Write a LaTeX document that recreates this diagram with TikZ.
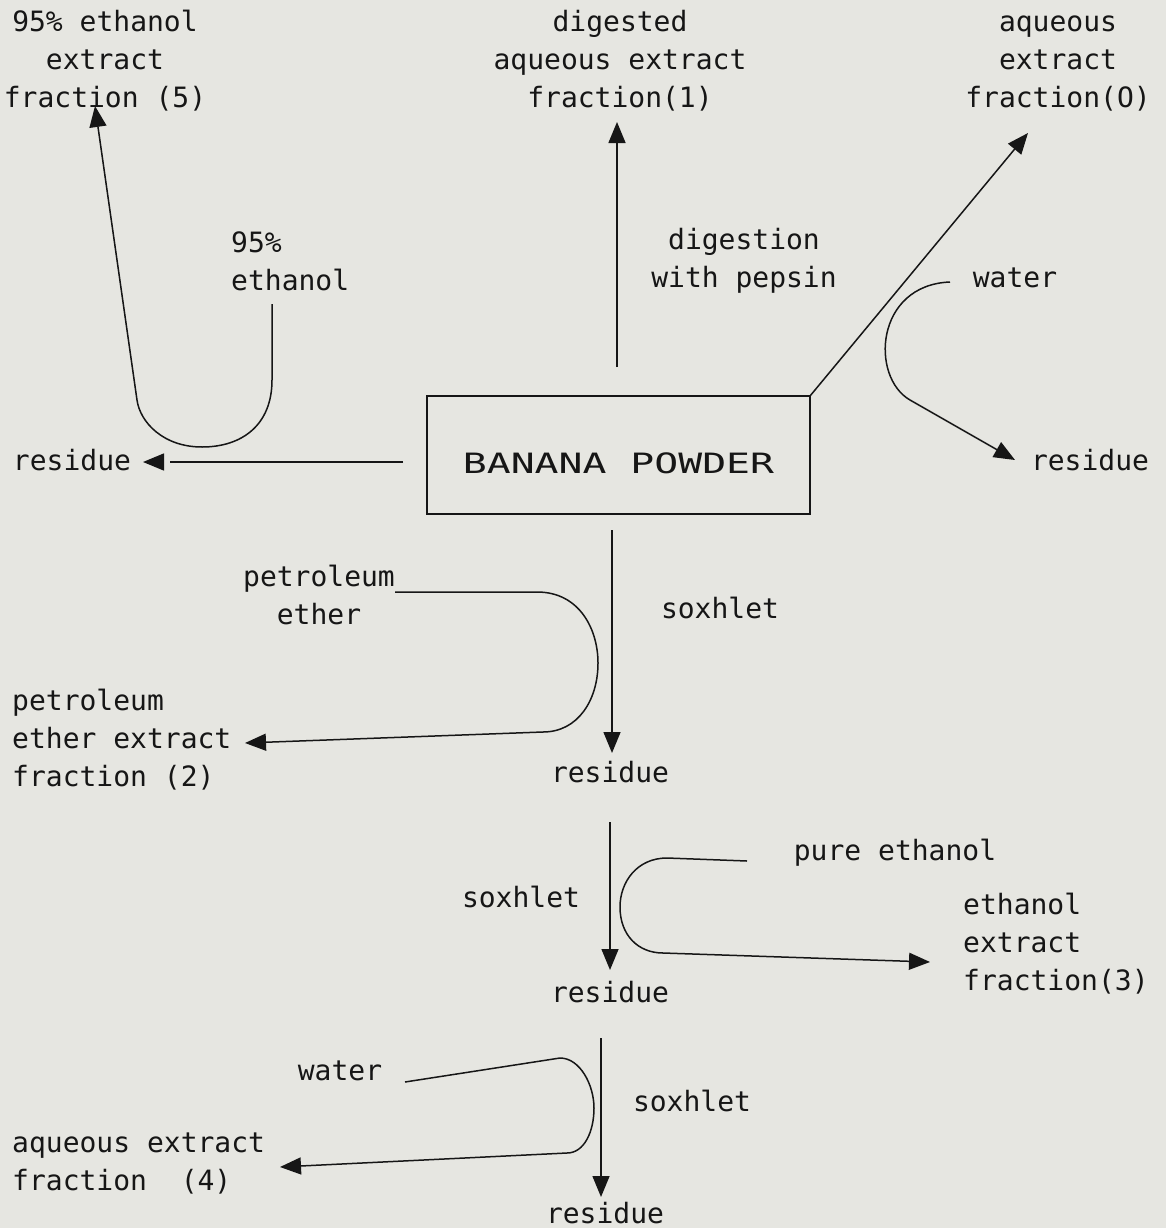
\documentclass[tikz,border=0pt]{standalone}
\usepackage{fontspec}
\usepackage{graphicx}
\setmainfont{DejaVu Sans Mono}
\usetikzlibrary{arrows.meta}
\definecolor{paper}{RGB}{230,230,225}
\definecolor{ink}{RGB}{22,22,22}
\begin{document}
\begin{tikzpicture}[x=1pt,y=-1pt,
  lbl/.style={font=\fontsize{28}{38}\selectfont, text=ink, inner sep=0pt, align=center},
  sl/.style={lbl, text height=20pt, text depth=6pt},
  ml/.style={lbl, align=left, anchor=west},
  line/.style={draw=ink, line width=1.5pt},
  thinline/.style={draw=ink, line width=1.1pt},
  arr/.style={line, -{Triangle[length=21pt,width=17pt]}}]
\fill[paper] (0,0) rectangle (1166,1228);
\useasboundingbox (0,0) rectangle (1166,1228);

% labels
\node[lbl] (t5) at (105,60.5) {95\% ethanol\\extract\\fraction (5)};
\node[lbl] (t1) at (620,60.5) {digested\\aqueous extract\\fraction(1)};
\node[lbl] (t0) at (1058,63.5) {aqueous\\extract\\fraction(O)};
\node[ml] (e95) at (231,261) {95\%\\ethanol};
\node[lbl] (dig) at (744,261) {digestion\\with pepsin};
\node[sl] (wtop) at (1015,280) {water};
\node[sl] (resR) at (1090,463) {residue};
\node[sl] (resL) at (72,463) {residue};
\node[draw=ink, line width=1.6pt, minimum width=383pt, minimum height=118pt,
      font=\fontsize{28}{38}\selectfont, text=ink, inner sep=0pt,
      text height=36pt, text depth=0pt] (box) at (618.5,455)
      {\scalebox{1.42}[1]{BANANA POWDER}};
\node[lbl] (pe) at (319,595) {petroleum\\ether};
\node[sl] (sox1) at (720,611) {soxhlet};
\node[ml] (f2) at (12,740) {petroleum\\ether extract\\fraction (2)};
\node[sl] (res1) at (610,775) {residue};
\node[sl] (pure) at (895,853) {pure ethanol};
\node[sl] (sox2) at (521,900) {soxhlet};
\node[ml] (f3) at (963,944) {ethanol\\extract\\fraction(3)};
\node[sl] (res2) at (610,995) {residue};
\node[sl] (wbot) at (340,1073) {water};
\node[sl] (sox3) at (692,1104) {soxhlet};
\node[ml] (f4) at (12,1164) {aqueous extract\\fraction\ \ (4)};
\node[sl] (res3) at (605,1216) {residue};

% connector end points
\coordinate (a1s) at (617,367);  \coordinate (a1e) at (617,122);
\coordinate (l0) at (403,462);   \coordinate (l1) at (170,462);
\coordinate (l2) at (163,462);   \coordinate (l3) at (143,462);
\coordinate (d0) at (810,396);   \coordinate (d1) at (1028,133);
\coordinate (u0) at (272,304);   \coordinate (u1) at (272,380);
\coordinate (u2) at (202,447);   \coordinate (u3) at (137,400);
\coordinate (u4) at (95,106);
\coordinate (w0) at (950,282);   \coordinate (w1) at (910,400);
\coordinate (w2) at (1015,460);
\coordinate (b0) at (612,530);   \coordinate (b1) at (612,753);
\coordinate (p0) at (395,592);   \coordinate (p1) at (537,592);
\coordinate (p2) at (598,663);   \coordinate (p3) at (543,732);
\coordinate (p4) at (245,743);
\coordinate (c0) at (610,822);   \coordinate (c1) at (610,970);
\coordinate (e0) at (747,861);   \coordinate (e1) at (667,858);
\coordinate (e2) at (620,907);   \coordinate (e3) at (663,953);
\coordinate (e4) at (930,962);
\coordinate (g0) at (601,1038);  \coordinate (g1) at (601,1197);
\coordinate (h0) at (405,1082);  \coordinate (h1) at (560,1058);
\coordinate (h2) at (594,1108);  \coordinate (h3) at (567,1153);
\coordinate (h4) at (280,1167);

% connectors
\draw[arr] (a1s) -- (a1e);
\draw[thinline] (l0) -- (l1);
\draw[arr] (l2) -- (l3);
\draw[arr] (d0) -- (d1);
\draw[arr] (u0) -- (u1) .. controls (272,425) and (242,447) .. (u2)
  .. controls (163,447) and (140,422) .. (u3) -- (u4);
\draw[arr] (w0) .. controls (875,285) and (870,377) .. (w1) -- (w2);
\draw[arr] (b0) -- (b1);
\draw[arr] (p0) -- (p1) .. controls (580,592) and (598,630) .. (p2)
  .. controls (598,700) and (578,732) .. (p3) -- (p4);
\draw[arr] (c0) -- (c1);
\draw[arr] (e0) -- (e1) .. controls (637,858) and (620,882) .. (e2)
  .. controls (620,935) and (638,953) .. (e3) -- (e4);
\draw[arr] (g0) -- (g1);
\draw[arr] (h0) -- (h1) .. controls (580,1058) and (594,1085) .. (h2)
  .. controls (594,1132) and (584,1153) .. (h3) -- (h4);
\end{tikzpicture}
\end{document}
